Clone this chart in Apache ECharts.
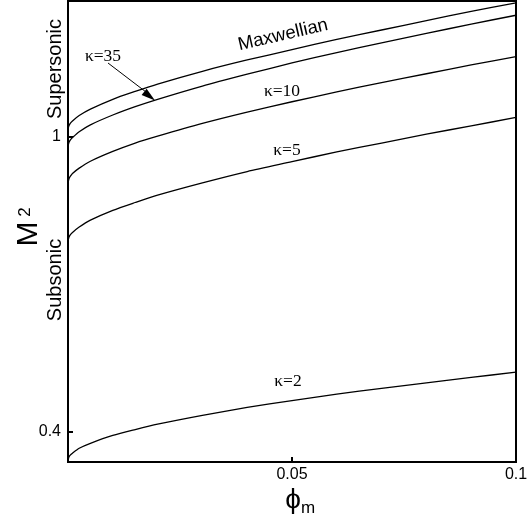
<!DOCTYPE html>
<html>
<head>
<meta charset="utf-8">
<script src="https://cdn.jsdelivr.net/npm/echarts@6/dist/echarts.min.js"></script>
<style>html,body{margin:0;padding:0;background:#fff}#c{width:527px;height:521px}</style>
</head>
<body>
<div id="c"></div>
<script>
// phi_m values (x)
var phi = [0, 0.0002, 0.0005, 0.001, 0.0025, 0.005, 0.01, 0.015, 0.02, 0.03, 0.04, 0.05, 0.06, 0.07, 0.08, 0.09, 0.1];
// M^2 values
var maxwellian = [1.015, 1.022, 1.027, 1.032, 1.043, 1.056, 1.076, 1.092, 1.107, 1.133, 1.156, 1.177, 1.198, 1.217, 1.236, 1.255, 1.272];
var kappa35 = [0.980, 0.988, 0.993, 0.998, 1.010, 1.024, 1.044, 1.061, 1.076, 1.103, 1.127, 1.150, 1.171, 1.191, 1.210, 1.229, 1.247];
var kappa10 = [0.906, 0.914, 0.919, 0.925, 0.936, 0.950, 0.970, 0.987, 1.001, 1.027, 1.050, 1.071, 1.091, 1.110, 1.128, 1.146, 1.163];
var kappa5 = [0.787, 0.795, 0.800, 0.805, 0.816, 0.830, 0.850, 0.866, 0.881, 0.906, 0.929, 0.949, 0.969, 0.987, 1.005, 1.022, 1.039];
var kappa2 = [0.341, 0.348, 0.352, 0.356, 0.366, 0.376, 0.392, 0.404, 0.415, 0.433, 0.449, 0.463, 0.476, 0.488, 0.499, 0.510, 0.521];
var xTicks = [0.05, 0.1];
var yTicks = [0.4, 1];

function pairs(ys) { return phi.map(function (x, i) { return [x, ys[i]]; }); }
function mk(name, ys) {
  return { name: name, type: 'line', data: pairs(ys), showSymbol: false, smooth: 0.25,
    lineStyle: { color: '#000', width: 1.3 }, itemStyle: { color: '#000' }, silent: true };
}

var chart = echarts.init(document.getElementById('c'), null, { renderer: 'canvas' });
var sans = 'Liberation Sans, Arial, sans-serif';
var serif = 'Liberation Serif, Times New Roman, serif';
function txt(s, x, y, size, fam, rot) {
  return { type: 'text', x: x, y: y, rotation: rot || 0, silent: true,
    style: { text: s, fontSize: size, fontFamily: fam, fill: '#000', align: 'center', verticalAlign: 'middle' } };
}
var R = Math.PI / 180;
chart.setOption({
  animation: false,
  backgroundColor: '#fff',
  grid: { left: 68, right: 11, top: 1, bottom: 59, show: true, borderColor: '#000', borderWidth: 2, outerBoundsMode: 'none', containLabel: false },
  xAxis: {
    type: 'value', min: 0, max: 0.1,
    axisLine: { show: true, lineStyle: { color: '#000', width: 2 } },
    axisTick: { show: true, inside: true, length: 5, customValues: xTicks, lineStyle: { color: '#000', width: 2 } },
    axisLabel: { customValues: xTicks, color: '#000', fontSize: 16, fontFamily: sans, margin: 5,
      formatter: function (v) { return v === 0.1 ? '0.1' : String(v); } },
    splitLine: { show: false }
  },
  yAxis: {
    type: 'value', min: 0.338, max: 1.276,
    axisLine: { show: true, lineStyle: { color: '#000', width: 2 } },
    axisTick: { show: true, inside: true, length: 5, customValues: yTicks, lineStyle: { color: '#000', width: 2 } },
    axisLabel: { customValues: yTicks, color: '#000', fontSize: 16, fontFamily: sans, margin: 7,
      formatter: function (v) { return Math.abs(v - 1) < 1e-9 ? '1' : String(v); } },
    splitLine: { show: false }
  },
  series: [mk('Maxwellian', maxwellian), mk('κ=35', kappa35), mk('κ=10', kappa10), mk('κ=5', kappa5), mk('κ=2', kappa2)],
  graphic: [
    txt('Maxwellian', 283, 35, 18.5, sans, 13 * R),
    txt('κ=35', 103, 56, 17.5, serif),
    txt('κ=10', 282, 91, 17.5, serif),
    txt('κ=5', 287, 150, 17.5, serif),
    txt('κ=2', 288, 381, 17.5, serif),
    txt('Supersonic', 55, 69, 20, sans, 90 * R),
    txt('Subsonic', 55, 280, 20, sans, 90 * R),
    txt('M', 29, 234, 30, sans, 90 * R),
    txt('2', 25, 212, 17, sans, 90 * R),
    txt('ϕ', 293, 500, 28, sans),
    txt('m', 308, 508, 17, sans),
    { type: 'line', silent: true, shape: { x1: 108, y1: 63, x2: 146, y2: 92 }, style: { stroke: '#000', lineWidth: 1 } },
    { type: 'polygon', silent: true, shape: { points: [[155, 100.5], [141.6, 95.0], [146.6, 88.8]] }, style: { fill: '#000' } }
  ]
});
</script>
</body>
</html>
